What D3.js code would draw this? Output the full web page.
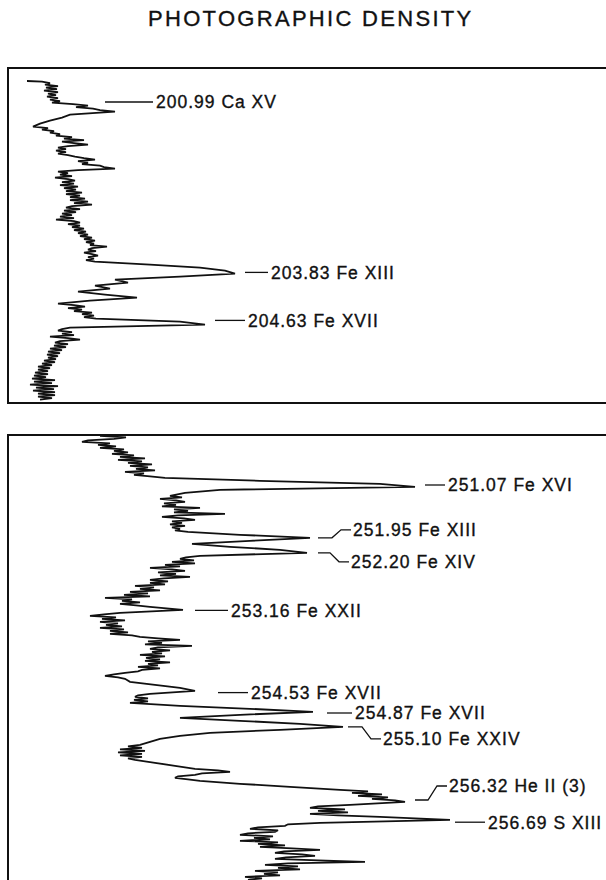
<!DOCTYPE html>
<html>
<head>
<meta charset="utf-8">
<script src="https://cdn.jsdelivr.net/npm/d3@7"></script>
<style>
  body { margin: 0; background: #fff; }
  svg text { font-family: "Liberation Sans", Arial, Helvetica, sans-serif; fill: #111; stroke: #111; stroke-width: 0.35px; }
</style>
</head>
<body>
<div id="chart"></div>
<script>
// top panel: wavelength (Angstrom) vs photographic density (arbitrary units)
const traceTop = [
  [200.64,1.9],[200.65,3.4],[200.675,4.2],[200.70,3.7],[200.725,5.0],[200.75,3.8],[200.775,4.9],[200.80,3.6],
  [200.825,5.0],[200.85,4.0],[200.875,4.8],[200.90,3.9],[200.925,5.0],[200.95,4.2],[200.975,5.2],[201.00,4.4],
  [201.025,6.5],[201.05,8.0],[201.075,6.8],[201.10,8.5],[201.125,9.2],[201.15,10.7],[201.20,6.2],[201.25,5.4],
  [201.30,4.2],[201.35,3.2],[201.40,2.5],[201.425,4.0],[201.45,3.4],[201.475,4.6],[201.50,4.2],[201.525,5.2],
  [201.55,4.8],[201.575,6.4],[201.60,5.6],[201.625,7.6],[201.65,5.4],[201.675,6.6],[201.70,8.0],[201.725,6.0],
  [201.75,5.0],[201.775,5.8],[201.80,4.8],[201.825,5.8],[201.85,5.0],[201.875,6.0],[201.90,6.7],[201.925,7.6],
  [201.95,8.7],[201.975,7.0],[202.00,8.0],[202.025,7.4],[202.05,9.2],[202.075,9.6],[202.10,10.7],[202.125,7.0],
  [202.15,5.0],[202.175,6.0],[202.20,5.2],[202.225,6.4],[202.25,4.7],[202.275,6.0],[202.30,6.7],[202.325,5.4],
  [202.35,6.6],[202.375,5.2],[202.40,7.0],[202.425,5.6],[202.45,6.8],[202.475,5.8],[202.50,7.4],[202.525,5.8],
  [202.55,7.2],[202.575,6.2],[202.60,7.7],[202.625,6.2],[202.65,8.0],[202.675,6.6],[202.70,8.4],[202.725,6.4],
  [202.75,5.8],[202.775,7.2],[202.80,5.6],[202.825,6.8],[202.85,5.4],[202.875,6.4],[202.90,5.2],[202.925,6.6],
  [202.95,4.8],[202.975,6.6],[203.00,7.2],[203.025,6.0],[203.05,7.2],[203.075,6.4],[203.10,7.6],[203.125,6.6],
  [203.15,7.8],[203.175,7.0],[203.20,8.0],[203.225,7.2],[203.25,8.4],[203.275,7.6],[203.30,8.7],[203.325,7.8],
  [203.35,8.6],[203.375,8.2],[203.40,9.9],[203.425,8.4],[203.45,8.0],[203.475,8.8],[203.50,7.6],[203.525,8.4],
  [203.55,9.0],[203.575,8.0],[203.60,8.6],[203.625,7.8],[203.65,8.7],[203.70,14.2],[203.75,19.2],[203.80,21.7],
  [203.85,22.7],[203.90,17.2],[203.95,10.7],[204.00,12.0],[204.05,8.7],[204.10,10.2],[204.15,7.0],[204.20,9.7],
  [204.25,12.9],[204.30,8.2],[204.35,5.0],[204.375,6.6],[204.40,7.7],[204.425,6.0],[204.45,7.4],[204.475,6.6],
  [204.50,8.4],[204.525,7.4],[204.55,8.6],[204.575,7.6],[204.60,8.8],[204.65,17.2],[204.70,19.7],[204.75,6.2],
  [204.775,5.4],[204.80,5.0],[204.825,6.4],[204.85,5.4],[204.875,6.6],[204.90,4.2],[204.925,6.0],[204.95,7.2],
  [204.975,5.2],[205.00,4.7],[205.025,6.0],[205.05,4.6],[205.075,5.8],[205.10,4.2],[205.125,5.4],[205.15,4.0],
  [205.175,5.2],[205.20,3.9],[205.225,5.0],[205.25,4.0],[205.275,4.8],[205.30,3.6],[205.325,4.7],[205.35,3.4],
  [205.375,4.4],[205.40,3.0],[205.425,4.2],[205.45,3.0],[205.475,4.0],[205.50,2.7],[205.525,4.0],[205.55,2.6],
  [205.575,3.8],[205.60,2.4],[205.625,4.7],[205.65,2.6],[205.675,4.4],[205.70,2.2],[205.725,5.0],[205.75,2.8],
  [205.775,4.6],[205.80,2.5],[205.825,4.7],[205.85,3.0],[205.875,4.7],[205.90,3.0],[205.925,4.4],[205.95,3.2]
];

// bottom panel
const traceBottom = [
  [250.25,9.2],[250.275,11.8],[250.30,10.6],[250.325,8.0],[250.35,7.4],[250.375,10.2],[250.40,9.0],[250.425,10.8],
  [250.45,9.2],[250.475,11.6],[250.50,10.6],[250.525,12.0],[250.55,10.4],[250.575,12.6],[250.60,11.2],[250.625,13.7],
  [250.65,11.0],[250.675,13.4],[250.70,12.0],[250.725,14.4],[250.75,12.2],[250.775,14.0],[250.80,12.8],[250.825,14.7],
  [250.85,11.7],[250.875,13.6],[250.90,12.6],[250.925,14.2],[250.95,15.7],[251.00,25.2],[251.05,37.2],[251.10,40.7],
  [251.15,21.2],[251.20,17.7],[251.25,16.2],[251.275,17.4],[251.30,15.2],[251.325,16.8],[251.35,17.7],[251.375,15.6],
  [251.40,16.8],[251.425,15.4],[251.45,19.2],[251.475,16.6],[251.50,18.0],[251.525,16.6],[251.55,21.7],[251.575,17.0],
  [251.60,15.4],[251.625,17.6],[251.65,18.7],[251.675,16.4],[251.70,17.4],[251.725,16.2],[251.75,17.7],[251.775,16.4],
  [251.80,17.2],[251.825,16.7],[251.85,18.0],[251.90,23.2],[251.95,30.2],[252.00,24.2],[252.05,18.4],[252.10,22.2],
  [252.15,27.2],[252.20,29.9],[252.25,19.2],[252.275,17.8],[252.30,17.2],[252.325,18.6],[252.35,16.4],[252.375,18.7],
  [252.40,15.7],[252.425,17.2],[252.45,14.2],[252.475,16.4],[252.50,17.7],[252.525,15.0],[252.55,16.8],[252.575,15.2],
  [252.60,18.2],[252.625,15.6],[252.65,14.2],[252.675,16.0],[252.70,14.2],[252.725,15.7],[252.75,12.7],[252.775,14.6],
  [252.80,13.2],[252.825,15.2],[252.85,12.2],[252.875,14.0],[252.90,11.6],[252.925,14.2],[252.95,9.7],[252.975,12.4],
  [253.00,11.4],[253.025,13.2],[253.05,11.2],[253.075,12.8],[253.10,14.2],[253.15,17.5],[253.20,11.2],[253.225,9.6],
  [253.25,8.2],[253.275,10.8],[253.30,9.4],[253.325,11.7],[253.35,9.2],[253.375,11.0],[253.40,9.8],[253.425,11.4],
  [253.45,9.2],[253.475,11.6],[253.50,10.2],[253.525,12.0],[253.55,10.2],[253.575,12.4],[253.60,13.2],[253.625,15.0],
  [253.65,17.2],[253.675,14.0],[253.70,15.4],[253.725,13.7],[253.75,18.4],[253.775,15.0],[253.80,14.2],[253.825,16.2],
  [253.85,14.4],[253.875,15.4],[253.90,13.2],[253.925,15.7],[253.95,13.8],[253.975,15.2],[254.00,13.7],[254.025,16.2],
  [254.05,14.0],[254.075,15.0],[254.10,13.0],[254.125,15.2],[254.15,13.4],[254.175,13.0],[254.20,11.7],[254.225,10.6],
  [254.25,9.7],[254.275,11.0],[254.30,11.7],[254.35,12.2],[254.40,14.7],[254.45,17.2],[254.50,18.7],[254.55,14.2],
  [254.575,13.0],[254.60,12.7],[254.625,14.0],[254.65,12.6],[254.675,14.0],[254.70,12.2],[254.75,17.2],[254.80,24.2],
  [254.85,30.5],[254.90,23.2],[254.95,17.2],[255.00,23.2],[255.05,29.2],[255.10,33.5],[255.15,27.2],[255.20,20.2],
  [255.25,17.2],[255.30,15.2],[255.35,14.2],[255.40,13.2],[255.425,12.0],[255.45,13.4],[255.475,11.2],[255.50,13.7],
  [255.525,11.0],[255.55,13.4],[255.575,11.2],[255.60,13.4],[255.625,12.0],[255.65,12.7],[255.70,14.7],[255.75,16.7],
  [255.80,18.7],[255.825,21.0],[255.85,22.2],[255.875,19.4],[255.90,18.7],[255.925,17.0],[255.95,16.7],[255.975,18.0],
  [256.00,19.2],[256.05,23.2],[256.10,28.2],[256.15,33.2],[256.175,36.0],[256.20,34.4],[256.225,37.4],[256.25,35.0],
  [256.275,38.0],[256.30,36.4],[256.325,38.7],[256.35,39.7],[256.40,34.2],[256.425,31.0],[256.45,30.2],[256.475,33.7],
  [256.50,31.0],[256.525,34.0],[256.55,30.2],[256.575,33.0],[256.60,37.2],[256.65,44.2],[256.70,31.2],[256.725,28.0],
  [256.75,27.7],[256.775,25.0],[256.80,24.2],[256.825,27.0],[256.85,26.7],[256.875,24.0],[256.90,23.2],[256.925,26.5],
  [256.95,24.6],[256.975,26.2],[257.00,23.2],[257.025,27.0],[257.05,25.0],[257.075,27.7],[257.10,25.2],[257.125,28.4],
  [257.15,31.2],[257.175,27.6],[257.20,26.7],[257.225,29.4],[257.25,30.7],[257.275,27.8],[257.30,26.7],[257.325,31.0],
  [257.35,35.7],[257.375,28.0],[257.40,25.7],[257.425,29.0],[257.45,27.0],[257.475,29.2],[257.50,24.7],[257.525,27.0],
  [257.55,25.6],[257.575,27.2],[257.60,23.7],[257.625,25.4],[257.65,24.0],[257.675,26.2],[257.70,24.7]
];

// identified lines
const linesTop = [200.99, 203.83, 204.63];
const ionsTop = ["Ca XV", "Fe XIII", "Fe XVII"];
const linesBottom = [251.07, 251.95, 252.20, 253.16, 254.53, 254.87, 255.10, 256.32, 256.69];
const ionsBottom = ["Fe XVI", "Fe XIII", "Fe XIV", "Fe XXII", "Fe XVII", "Fe XVII", "Fe XXIV", "He II (3)", "S XIII"];

// leader layout (density units): start, end, bend in px (0 = straight)
const leadTop = [[9.7, 14.5, 0], [23.7, 26.0, 0], [20.7, 23.7, 0]];
const leadBottom = [
  [41.7, 43.7, 0], [31.0, 32.4, -8], [31.0, 32.2, 9], [18.7, 22.0, 0], [21.0, 24.0, 0],
  [31.9, 34.4, 0], [34.0, 35.4, 12], [40.7, 42.0, -14], [44.7, 47.7, 0]
];

const W = 606, H = 880;
const svg = d3.select("#chart").append("svg")
  .attr("width", W).attr("height", H);

svg.append("text")
  .attr("x", 148).attr("y", 26)
  .style("font-size", "22px")
  .style("letter-spacing", "2.3px")
  .text("PHOTOGRAPHIC DENSITY");

const x = d3.scaleLinear().domain([0, 60]).range([8, 608]);

function drawPanel(trace, lines, ions, leads, yDomain, yRange, box) {
  const y = d3.scaleLinear().domain(yDomain).range(yRange);
  const g = svg.append("g");

  g.append("rect")
    .attr("x", box[0]).attr("y", box[1])
    .attr("width", box[2]).attr("height", box[3])
    .attr("fill", "none").attr("stroke", "#111").attr("stroke-width", 2);

  const line = d3.line()
    .x(d => x(d[1]))
    .y(d => y(d[0]));

  g.append("path")
    .datum(trace)
    .attr("d", line)
    .attr("fill", "none")
    .attr("stroke", "#111")
    .attr("stroke-width", 1.8)
    .attr("stroke-linejoin", "miter")
    .attr("stroke-miterlimit", 3);

  lines.forEach((lam, i) => {
    const [a, b, bend] = leads[i];
    const yy = y(lam);
    let pts, tx, ty;
    if (bend === 0) {
      pts = [[x(a), yy], [x(b), yy]];
      tx = x(b) + 3; ty = yy;
    } else {
      pts = [[x(a), yy], [x(b), yy], [x(b) + 9, yy + bend], [x(b) + 19, yy + bend]];
      tx = x(b) + 21; ty = yy + bend;
    }
    g.append("path")
      .attr("d", d3.line()(pts))
      .attr("fill", "none")
      .attr("stroke", "#111")
      .attr("stroke-width", 1.3);
    g.append("text")
      .attr("x", tx).attr("y", ty + 6.3)
      .style("font-size", "17.5px")
      .style("letter-spacing", "1px")
      .text(lam.toFixed(2) + " " + ions[i]);
  });
}

drawPanel(traceTop, linesTop, ionsTop, leadTop, [201, 206], [102.6, 402.6], [8, 68, 620, 335]);
drawPanel(traceBottom, linesBottom, ionsBottom, leadBottom, [251, 257], [480.8, 840.8], [8, 435, 620, 460]);
</script>
</body>
</html>
